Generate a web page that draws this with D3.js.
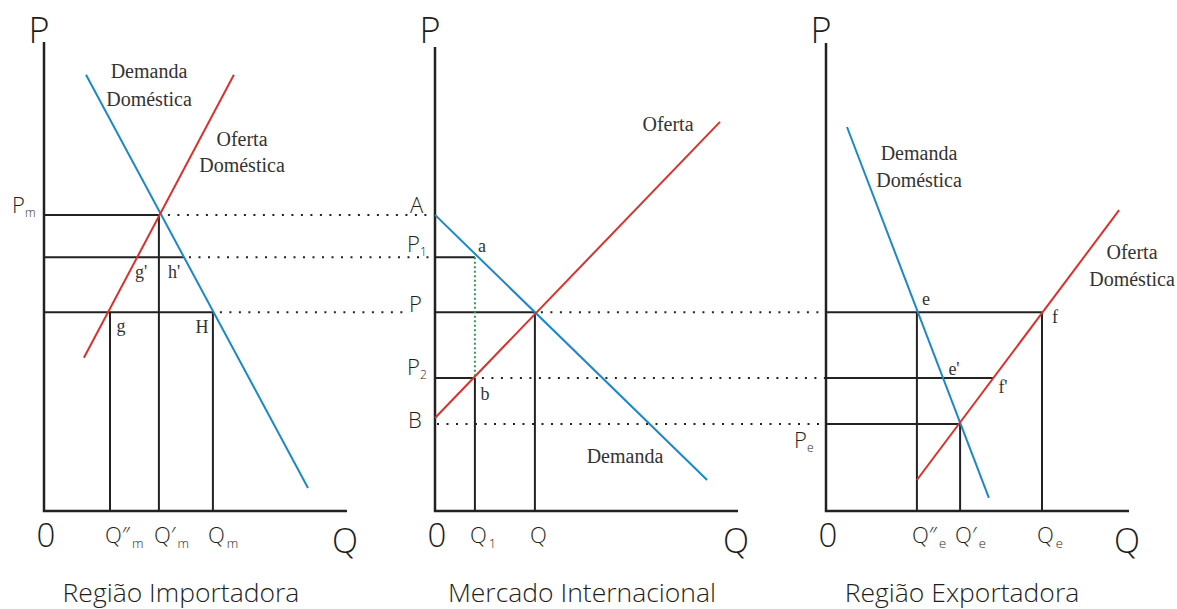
<!DOCTYPE html>
<html>
<head>
<meta charset="utf-8">
<script src="https://cdn.jsdelivr.net/npm/d3@7"></script>
<style>
  body { margin: 0; background: #fff; }
  .sans { font-family: "Open Sans", Lato, sans-serif; font-weight: 300; fill: #1e1e1e; }
  .serif { font-family: "Liberation Serif", serif; fill: #333; }
</style>
</head>
<body>
<div id="chart"></div>
<script>
// price levels shared by the three panels (0-100 units)
const priceLevels = { pm: 63, p1: 54, pw: 42.3, p2: 28.3, pb: 18.5 };

// Região Importadora
const importDemand = [[14, 92.8], [88, 4.9]];
const importSupply = [[13.3, 32.6], [63.3, 92.8]];
const importQty = [22, 38.3, 56.3];
const importTickLabels = [["Q″", "m"], ["Q′", "m"], ["Q", "m"]];

// Mercado Internacional
const intlDemand = [[0, 63], [90.7, 6.6]];
const intlSupply = [[0, 19.8], [95, 82.8]];
const intlQty = [13.3, 33.3];
const intlTickLabels = [["Q", "1"], ["Q", ""]];

// Região Exportadora
const exportDemand = [[7, 81.7], [54.3, 2.8]];
const exportSupply = [[30.3, 6.6], [97.7, 64]];
const exportQty = [30.3, 44.7, 72];
const exportTickLabels = [["Q″", "e"], ["Q′", "e"], ["Q", "e"]];

const titles = ["Região Importadora", "Mercado Internacional", "Região Exportadora"];

const width = 1177, height = 609;
const blue = "#1c87c9", red = "#d8322c", ink = "#222";

const svg = d3.select("#chart").append("svg")
    .attr("width", width).attr("height", height);

const y = d3.scaleLinear().domain([0, 100]).range([511, 41]);
const xImp = d3.scaleLinear().domain([0, 100]).range([44, 344]);
const xInt = d3.scaleLinear().domain([0, 100]).range([435, 735]);
const xExp = d3.scaleLinear().domain([0, 100]).range([826, 1126]);

// x on a straight curve for a given price
function xAt(line, p) {
    var [a, b] = line;
    return a[0] + (p - a[1]) * (b[0] - a[0]) / (b[1] - a[1]);
}

const gLines = svg.append("g");
const gDots = svg.append("g");
const gCurves = svg.append("g");
const gText = svg.append("g");

function seg(x, x1, p1, x2, p2) {
    gLines.append("line")
        .attr("x1", x(x1)).attr("y1", y(p1))
        .attr("x2", x(x2)).attr("y2", y(p2))
        .attr("stroke", ink).attr("stroke-width", 2);
}

function dotted(px1, px2, p) {
    gDots.append("line")
        .attr("x1", px1).attr("x2", px2)
        .attr("y1", y(p)).attr("y2", y(p))
        .attr("stroke", ink).attr("stroke-width", 2)
        .attr("stroke-dasharray", "2,7.5");
}

function curve(x, data, color) {
    gCurves.append("path")
        .attr("d", d3.line().x(d => x(d[0])).y(d => y(d[1]))(data))
        .attr("fill", "none").attr("stroke", color).attr("stroke-width", 2);
}

function axes(x, top) {
    gLines.append("path")
        .attr("d", d3.line()([[x(0), y(top)], [x(0), y(0)], [x(101), y(0)]]))
        .attr("fill", "none").attr("stroke", ink).attr("stroke-width", 2.5);
    gText.append("text").attr("class", "sans")
        .attr("x", x(0) - 5).attr("y", 43).attr("text-anchor", "middle")
        .attr("font-size", 36).text("P");
    gText.append("text").attr("class", "sans")
        .attr("x", x(0) + 2).attr("y", 547).attr("text-anchor", "middle")
        .attr("font-size", 33).text("0");
    gText.append("text").attr("class", "sans")
        .attr("x", x(100) + 1).attr("y", 553).attr("text-anchor", "middle")
        .attr("font-size", 34).text("Q");
}

function tickLabels(x, qty, labels) {
    qty.forEach((q, i) => {
        var t = gText.append("text").attr("class", "sans")
            .attr("x", x(q) - 5).attr("y", 543).attr("font-size", 22);
        t.append("tspan").text(labels[i][0]);
        t.append("tspan").attr("dx", 2).attr("dy", 5).attr("font-size", 13).text(labels[i][1]);
    });
}

function priceLabel(px, p, main, sub, dy) {
    var t = gText.append("text").attr("class", "sans")
        .attr("x", px).attr("y", y(p) + dy).attr("font-size", 22);
    t.append("tspan").text(main);
    if (sub) t.append("tspan").attr("dy", 4).attr("font-size", 12).text(sub);
}

function note(px, py, str, size) {
    gText.append("text").attr("class", "serif")
        .attr("x", px).attr("y", py).attr("text-anchor", "middle")
        .attr("font-size", size || 18).text(str);
}

const L = priceLevels;

// ---- left panel
axes(xImp, 99.8);
seg(xImp, 0, L.pm, importQty[1], L.pm);
seg(xImp, 0, L.p1, xAt(importDemand, L.p1), L.p1);
seg(xImp, 0, L.pw, importQty[2], L.pw);
importQty.forEach((q, i) => seg(xImp, q, i == 1 ? L.pm : L.pw, q, 0));
dotted(xImp(importQty[1]) + 9, xInt(0), L.pm);
dotted(xImp(xAt(importDemand, L.p1)) + 5, xInt(0) - 3, L.p1);
dotted(xImp(importQty[2]) + 7, xInt(0) - 25, L.pw);
curve(xImp, importDemand, blue);
curve(xImp, importSupply, red);
tickLabels(xImp, importQty, importTickLabels);
priceLabel(12, L.pm, "P", "m", -2);
note(149, 78, "Demanda", 20);
note(149, 106, "Doméstica", 20);
note(242, 146, "Oferta", 20);
note(242, 172, "Doméstica", 20);
note(141, 278, "g'");
note(174, 278, "h'");
note(121, 332, "g");
note(202, 333, "H");

// ---- middle panel
axes(xInt, 98.7);
seg(xInt, 0, L.p1, intlQty[0], L.p1);
seg(xInt, 0, L.p2, intlQty[0], L.p2);
seg(xInt, intlQty[0], L.p2, intlQty[0], 0);
seg(xInt, 0, L.pw, intlQty[1], L.pw);
seg(xInt, intlQty[1], L.pw, intlQty[1], 0);
gDots.append("line")
    .attr("x1", xInt(intlQty[0])).attr("x2", xInt(intlQty[0]))
    .attr("y1", y(L.p1)).attr("y2", y(L.p2))
    .attr("stroke", "#2e9a55").attr("stroke-width", 2)
    .attr("stroke-dasharray", "2,2.5");
dotted(xInt(intlQty[1]) + 6, xExp(0), L.pw);
dotted(xInt(intlQty[0]) + 7, xExp(0), L.p2);
dotted(xInt(0) + 2, xExp(0), L.pb);
curve(xInt, intlDemand, blue);
curve(xInt, intlSupply, red);
tickLabels(xInt, intlQty, intlTickLabels);
priceLabel(410, L.pm, "A", null, -2);
priceLabel(407, L.p1, "P", "1", -5);
priceLabel(409, L.pw, "P", null, 0);
priceLabel(407, L.p2, "P", "2", -3);
priceLabel(408, L.pb, "B", null, 4);
note(482, 252, "a");
note(485, 400, "b");
note(668, 131, "Oferta", 20);
note(625, 463, "Demanda", 20);

// ---- right panel
axes(xExp, 99.6);
seg(xExp, 0, L.pw, exportQty[2], L.pw);
seg(xExp, 0, L.p2, xAt(exportSupply, L.p2), L.p2);
seg(xExp, 0, L.pb, exportQty[1], L.pb);
seg(xExp, exportQty[0], L.pw, exportQty[0], 0);
seg(xExp, exportQty[1], L.pb, exportQty[1], 0);
seg(xExp, exportQty[2], L.pw, exportQty[2], 0);
curve(xExp, exportDemand, blue);
curve(xExp, exportSupply, red);
tickLabels(xExp, exportQty, exportTickLabels);
priceLabel(794, L.pb, "P", "e", 24);
note(919, 160, "Demanda", 20);
note(919, 187, "Doméstica", 20);
note(1132, 259, "Oferta", 20);
note(1132, 286, "Doméstica", 20);
note(926, 305, "e");
note(954, 375, "e'");
note(1055, 323, "f");
note(1003, 393, "f'");

// ---- titles
[xImp, xInt, xExp].forEach((x, i) => {
    gText.append("text").attr("class", "sans")
        .attr("x", [181, 582, 962][i]).attr("y", 602)
        .attr("text-anchor", "middle").attr("font-size", 26.5)
        .text(titles[i]);
});
</script>
</body>
</html>
